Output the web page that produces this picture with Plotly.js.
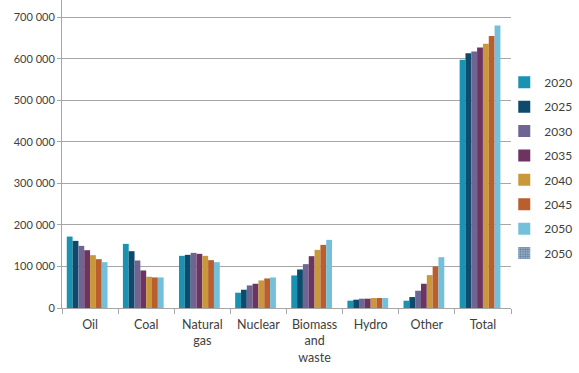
<!DOCTYPE html>
<html>
<head>
<meta charset="utf-8">
<script src="https://cdn.plot.ly/plotly-3.0.1.min.js"></script>
<style>html,body{margin:0;padding:0;background:#fff;}#chart{width:579px;height:373px;}</style>
</head>
<body>
<div id="chart"></div>
<script>
const categories = ["Oil", "Coal", "Natural<br>gas", "Nuclear", "Biomass<br>and<br>waste", "Hydro", "Other", "Total"];
const seriesNames = ["2020", "2025", "2030", "2035", "2040", "2045", "2050", "2050"];
const v2020 = [172000, 154400, 125600, 36800, 78400, 17600, 17600, 597600];
const v2025 = [161600, 136800, 128000, 44000, 92800, 20000, 26400, 613600];
const v2030 = [149600, 114400, 132800, 54400, 105600, 22400, 41600, 617600];
const v2035 = [139200, 90400, 130400, 58400, 124800, 22400, 58400, 627200];
const v2040 = [127200, 75200, 125600, 66400, 140000, 24000, 79200, 636000];
const v2045 = [117600, 73600, 115200, 71200, 152000, 24000, 100000, 655200];
const v2050 = [110400, 73600, 110400, 73600, 164000, 24000, 122400, 680000];
const v2050b = [null, null, null, null, null, null, null, null];
const seriesValues = [v2020, v2025, v2030, v2035, v2040, v2045, v2050, v2050b];
const colors = ["#1a93b3", "#0e4a6c", "#6f6592", "#6d3462", "#c9983a", "#b95e2c", "#74c0dc", "#8299b3"];

const traces = seriesValues.map((vals, i) => ({
  type: "bar",
  name: seriesNames[i],
  x: categories,
  y: vals,
  legendgroup: "g" + i,
  marker: Object.assign({color: colors[i], line: {width: 0}},
    i === 7 ? {pattern: {shape: ".", fgcolor: "#5f7f9f", bgcolor: "#a9b9cc", size: 3, solidity: 0.5}} : {}),
  hoverinfo: "skip"
}));

const layout = {
  width: 579, height: 373,
  margin: {l: 62, r: 68, t: 0, b: 65, autoexpand: false},
  paper_bgcolor: "#fff", plot_bgcolor: "#fff",
  barmode: "group", bargap: 0.17, bargroupgap: 0,
  separators: ". ",
  font: {family: "Lato, 'Liberation Sans', sans-serif", size: 11, color: "#404040"},
  xaxis: {
    showgrid: false, showline: true, linecolor: "#a6a6a6", linewidth: 1,
    ticks: "outside", tickson: "boundaries", ticklen: 5, tickcolor: "#a6a6a6",
    tickfont: {size: 12.5}, tickangle: 0, ticklabelstandoff: 5, fixedrange: true
  },
  yaxis: {
    range: [0, 741600], tickvals: [0, 100000, 200000, 300000, 400000, 500000, 600000, 700000],
    tickformat: ",d", showgrid: true, gridcolor: "#a6a6a6", gridwidth: 1,
    showline: true, linecolor: "#a6a6a6", linewidth: 1, zeroline: false,
    ticks: "outside", ticklen: 4, tickcolor: "#a6a6a6", tickfont: {size: 11}, fixedrange: true
  },
  legend: {
    x: 0.985, xanchor: "left", xref: "paper", y: 0.78, yanchor: "top",
    font: {size: 12}, itemwidth: 30, tracegroupgap: 5.4, traceorder: "grouped", bgcolor: "rgba(0,0,0,0)"
  },
  showlegend: true
};

Plotly.newPlot("chart", traces, layout, {displayModeBar: false, staticPlot: true});
</script>
</body>
</html>
